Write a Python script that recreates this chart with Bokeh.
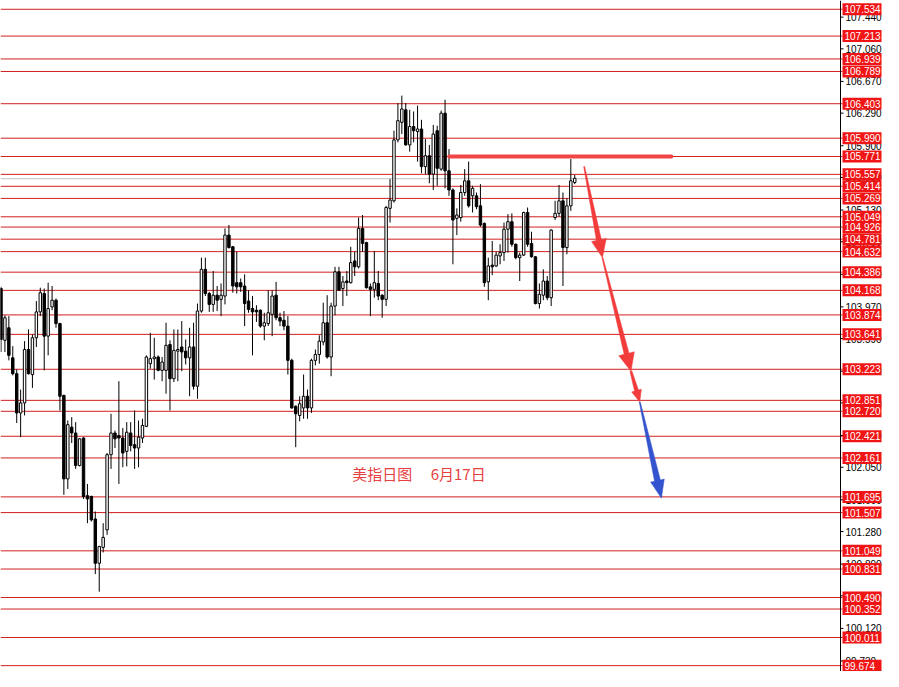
import numpy as np
from bokeh.plotting import figure
from bokeh.models import Range1d
from bokeh.embed import file_html
from bokeh.resources import INLINE
from bokeh.core.properties import value

# ---------------- data ----------------
opens = [104.19, 103.57, 103.72, 103.36, 103.17, 102.70, 102.82, 103.46, 103.16, 103.60,
         103.91, 104.13, 103.62, 103.97, 104.05, 103.77, 102.91, 101.91, 102.53, 102.46,
         102.07, 102.40, 101.71, 101.70, 101.43, 100.90, 101.09, 101.30, 102.20, 102.46,
         102.43, 102.40, 102.24, 102.46, 102.32, 102.28, 102.40, 102.54, 103.29, 103.35,
         103.37, 103.21, 103.21, 103.52, 103.11, 103.44, 103.49, 103.44, 103.36, 103.49,
         103.02, 103.92, 104.42, 104.13, 104.00, 104.11, 104.06, 104.10, 104.83, 104.69,
         104.26, 104.26, 104.22, 104.04, 103.95, 103.93, 103.93, 103.74, 103.77, 103.88,
         104.11, 103.84, 103.81, 103.74, 103.33, 102.78, 102.67, 102.76, 102.90, 102.76,
         103.33, 103.40, 103.55, 103.78, 103.37, 103.98, 104.39, 104.19, 104.28, 104.26,
         104.52, 104.45, 104.91, 104.74, 104.21, 104.18, 104.25, 104.11, 104.06, 105.15,
         105.24, 105.97, 106.18, 106.33, 105.91, 106.13, 106.07, 106.10, 105.65, 105.78,
         105.56, 106.08, 105.62, 106.29, 105.60, 105.37, 105.03, 105.04, 105.34, 105.48,
         105.30, 105.30, 105.18, 104.97, 104.27, 104.47, 104.46, 104.58, 104.62, 104.90,
         104.99, 104.72, 104.56, 104.59, 105.10, 104.73, 104.57, 104.01, 104.11, 104.28,
         104.08, 105.04, 105.09, 105.24, 104.68, 105.18, 105.46]
highs = [104.21, 103.87, 103.86, 103.50, 103.22, 102.98, 103.56, 103.70, 103.64, 104.04,
         104.20, 104.19, 104.26, 104.22, 104.07, 103.78, 102.92, 102.61, 102.65, 102.59,
         102.40, 102.41, 101.85, 101.71, 101.52, 101.11, 101.38, 102.22, 102.69, 102.49,
         103.08, 102.52, 102.59, 102.59, 102.73, 102.61, 102.63, 103.39, 103.66, 103.60,
         103.39, 103.37, 103.78, 103.57, 103.70, 103.70, 103.80, 103.58, 103.72, 103.78,
         104.01, 104.56, 104.56, 104.15, 104.40, 104.22, 104.25, 104.91, 104.95, 104.70,
         104.63, 104.31, 104.36, 104.17, 104.10, 103.99, 103.94, 103.90, 104.17, 104.17,
         104.27, 103.90, 103.92, 103.86, 103.35, 102.79, 102.90, 103.16, 102.98, 103.35,
         103.46, 103.63, 104.02, 104.11, 104.02, 104.45, 104.45, 104.34, 104.40, 104.69,
         104.63, 105.04, 105.07, 104.75, 104.25, 104.64, 104.40, 104.12, 105.18, 105.50,
         106.08, 106.41, 106.50, 106.41, 106.33, 106.31, 106.38, 106.21, 105.98, 105.91,
         106.15, 106.14, 106.32, 106.45, 105.86, 105.39, 105.15, 105.43, 105.62, 105.71,
         105.42, 105.34, 105.44, 104.98, 104.56, 104.76, 104.63, 104.72, 104.98, 105.08,
         105.09, 104.73, 104.62, 105.11, 105.16, 104.87, 104.58, 104.25, 104.42, 104.34,
         104.90, 105.24, 105.43, 105.34, 105.27, 105.74, 105.55]
lows = [103.43, 103.43, 103.33, 103.15, 102.58, 102.41, 102.67, 103.16, 103.00, 103.49,
        103.86, 103.21, 103.39, 103.93, 103.72, 102.73, 101.72, 101.79, 102.34, 102.03,
        102.06, 101.67, 101.38, 101.40, 100.77, 100.56, 101.03, 101.24, 102.03, 102.28,
        101.85, 102.05, 102.06, 102.24, 102.03, 102.05, 102.34, 102.53, 103.23, 103.10,
        103.20, 103.08, 102.93, 102.73, 103.07, 103.08, 103.20, 103.28, 102.90, 102.98,
        102.87, 103.90, 104.10, 103.91, 103.91, 103.92, 103.86, 104.00, 104.67, 104.14,
        104.13, 104.15, 103.74, 103.90, 103.39, 103.79, 103.72, 103.57, 103.74, 103.62,
        103.81, 103.74, 103.69, 103.16, 102.75, 102.29, 102.60, 102.63, 102.63, 102.70,
        103.27, 103.29, 103.51, 103.35, 103.14, 103.87, 104.16, 103.98, 104.10, 104.25,
        104.34, 104.43, 104.63, 104.19, 103.86, 104.08, 104.05, 103.84, 103.98, 104.98,
        105.22, 105.94, 106.04, 105.90, 105.83, 105.94, 105.71, 105.57, 105.56, 105.45,
        105.37, 105.42, 105.60, 105.39, 105.30, 104.48, 104.83, 104.99, 105.30, 105.16,
        105.10, 105.14, 104.93, 104.21, 104.05, 104.35, 104.45, 104.48, 104.52, 104.62,
        104.69, 104.54, 104.28, 104.58, 104.69, 104.56, 104.00, 103.95, 104.05, 104.05,
        103.98, 105.01, 105.05, 104.22, 104.60, 105.12, 105.44]
closes = [103.58, 103.84, 103.39, 103.17, 102.70, 102.82, 103.46, 103.17, 103.60, 103.91,
          104.14, 103.62, 103.95, 104.05, 103.77, 102.90, 101.91, 102.56, 102.46, 102.07,
          102.39, 101.70, 101.67, 101.42, 100.90, 101.10, 101.21, 102.20, 102.46, 102.39,
          102.40, 102.22, 102.47, 102.31, 102.28, 102.41, 102.55, 103.37, 103.35, 103.37,
          103.21, 103.31, 103.51, 103.11, 103.45, 103.46, 103.43, 103.36, 103.49, 103.02,
          103.92, 104.42, 104.13, 104.00, 104.11, 104.05, 104.11, 104.83, 104.68, 104.22,
          104.21, 104.21, 104.01, 103.94, 103.91, 103.91, 103.74, 103.78, 103.90, 104.10,
          103.84, 103.80, 103.74, 103.33, 102.76, 102.69, 102.81, 102.90, 102.76, 103.33,
          103.40, 103.56, 103.78, 103.37, 103.98, 104.39, 104.17, 104.27, 104.26, 104.50,
          104.45, 104.91, 104.73, 104.20, 104.18, 104.26, 104.10, 104.06, 105.16, 105.25,
          105.97, 106.20, 106.34, 105.91, 106.13, 106.08, 106.10, 105.65, 105.78, 105.56,
          106.04, 105.63, 106.29, 105.60, 105.37, 105.01, 105.07, 105.34, 105.48, 105.18,
          105.39, 105.17, 104.95, 104.26, 104.46, 104.45, 104.59, 104.62, 104.90, 104.99,
          104.72, 104.56, 104.59, 105.10, 104.72, 104.57, 104.01, 104.12, 104.28, 104.08,
          104.89, 105.09, 105.24, 104.68, 105.18, 105.48, 105.51]

levels = [107.534, 107.213, 106.939, 106.789, 106.403, 105.990, 105.771, 105.557,
          105.414, 105.269, 105.049, 104.926, 104.781, 104.632, 104.386, 104.168,
          103.874, 103.641, 103.223, 102.851, 102.720, 102.421, 102.161, 101.695,
          101.507, 101.049, 100.831, 100.490, 100.352, 100.011, 99.674]

tick_values = [107.440, 107.060, 106.670, 106.290, 105.900, 105.520, 105.130, 104.750,
               104.360, 103.970, 103.590, 103.200, 102.820, 102.430, 102.050, 101.660,
               101.280, 100.890, 100.510, 100.120, 99.730]

current_price = 105.505
resistance_x = [114.1, 170.6]
resistance_y = 105.771

arrow_x = [148.4, 153.05, 160.3, 162.55, 168.05]
arrow_y = [105.65, 104.56, 103.20, 102.83, 101.68]
arrow_colors = ["#f23b3b", "#f23b3b", "#f23b3b", "#3454cf"]

title_text = "美指日图\u3000\u00a06月17日"
title_x = 89.4
title_y = 101.98

# ---------------- figure ----------------
W, H = 883, 671
CHART_W = 840                     # width of the candle area (px)
X0, X1 = -0.125, 213.625          # candle-area x range (bar index)
Y0, Y1 = 99.604, 107.639
kx = CHART_W / (X1 - X0)
ky = H / (Y1 - Y0)
XF = X0 + W / kx                  # full x extent incl. price scale

p = figure(width=W, height=H, x_range=Range1d(X0, XF), y_range=Range1d(Y0, Y1),
           output_backend="svg", toolbar_location=None,
           x_axis_location=None, y_axis_location=None,
           min_border=0)
p.outline_line_color = None
p.background_fill_color = "white"
p.border_fill_color = "white"
p.grid.visible = False

# horizontal levels
p.segment(x0=[X0], y0=[current_price], x1=[X1], y1=[current_price],
          line_color="#c0c0c0", line_width=1)
n = len(levels)
p.segment(x0=[X0] * n, y0=levels, x1=[X1 + 2 / kx] * n, y1=levels,
          line_color="#d21f1f", line_width=1)

# candles
idx = np.arange(len(opens))
o = np.array(opens); c = np.array(closes)
up = c >= o
top = np.maximum(o, c); bot = np.minimum(o, c)
p.segment(x0=idx, y0=highs, x1=idx, y1=lows, line_color="black", line_width=1)
p.vbar(x=idx[up], top=top[up], bottom=bot[up], width=0.62,
       fill_color="white", line_color="black", line_width=1)
p.vbar(x=idx[~up], top=top[~up], bottom=bot[~up], width=0.62,
       fill_color="black", line_color="black", line_width=1)

# thick resistance
p.segment(x0=[resistance_x[0]], y0=[resistance_y], x1=[resistance_x[1]], y1=[resistance_y],
          line_color="#f04646", line_width=4, line_cap="round")

# arrows (tapered polygons)
def arrow_poly(xs, ys, xe, ye, head_len, head_w, shaft_w, tail_w):
    S = np.array([(xs - X0) * kx, (ys - Y0) * ky])
    E = np.array([(xe - X0) * kx, (ye - Y0) * ky])
    d = (E - S) / np.linalg.norm(E - S)
    nn = np.array([-d[1], d[0]])
    B = E - d * head_len
    pts = [S + nn * tail_w / 2, B + nn * shaft_w / 2, B + nn * head_w / 2, E,
           B - nn * head_w / 2, B - nn * shaft_w / 2, S - nn * tail_w / 2]
    return ([pt[0] / kx + X0 for pt in pts], [pt[1] / ky + Y0 for pt in pts])

shapes = [(18, 15, 5, 1), (18, 16, 5, 1), (12, 10, 4, 2), (18, 14, 6, 1)]
axs, ays = [], []
for i in range(4):
    hx, hy = arrow_poly(arrow_x[i], arrow_y[i], arrow_x[i + 1], arrow_y[i + 1], *shapes[i])
    axs.append(hx); ays.append(hy)
p.patches(xs=axs, ys=ays, fill_color=arrow_colors, line_color=arrow_colors, line_width=0.5)

# title text
p.text(x=[title_x], y=[title_y], text=[title_text], text_color="#e8403e",
       text_font=value("Noto Sans CJK SC"), text_font_size=value("15px"),
       text_baseline="middle", text_align="left")

# price scale (right)
p.segment(x0=[X1], y0=[Y0], x1=[X1], y1=[Y1], line_color="black", line_width=1)
m = len(tick_values)
p.segment(x0=[X1] * m, y0=tick_values, x1=[X1 + 3 / kx] * m, y1=tick_values,
          line_color="black", line_width=1)
p.text(x=[X1 + 5 / kx] * m, y=tick_values, text=[f"{t:.3f}" for t in tick_values],
       text_color="black", text_font=value("Liberation Sans"),
       text_font_size=value("10px"), text_baseline="middle", text_align="left")

# red price labels
p.rect(x=[X1 + 21.5 / kx] * n, y=levels, width=39, height=12,
       width_units="screen", height_units="screen",
       fill_color="#f01414", line_color=None)
p.text(x=[X1 + 4 / kx] * n, y=levels, text=[f"{lv:.3f}" for lv in levels],
       text_color="white", text_font=value("Liberation Sans"),
       text_font_size=value("10px"), text_baseline="middle", text_align="left")

open("out.html", "w").write(file_html(p, INLINE))
